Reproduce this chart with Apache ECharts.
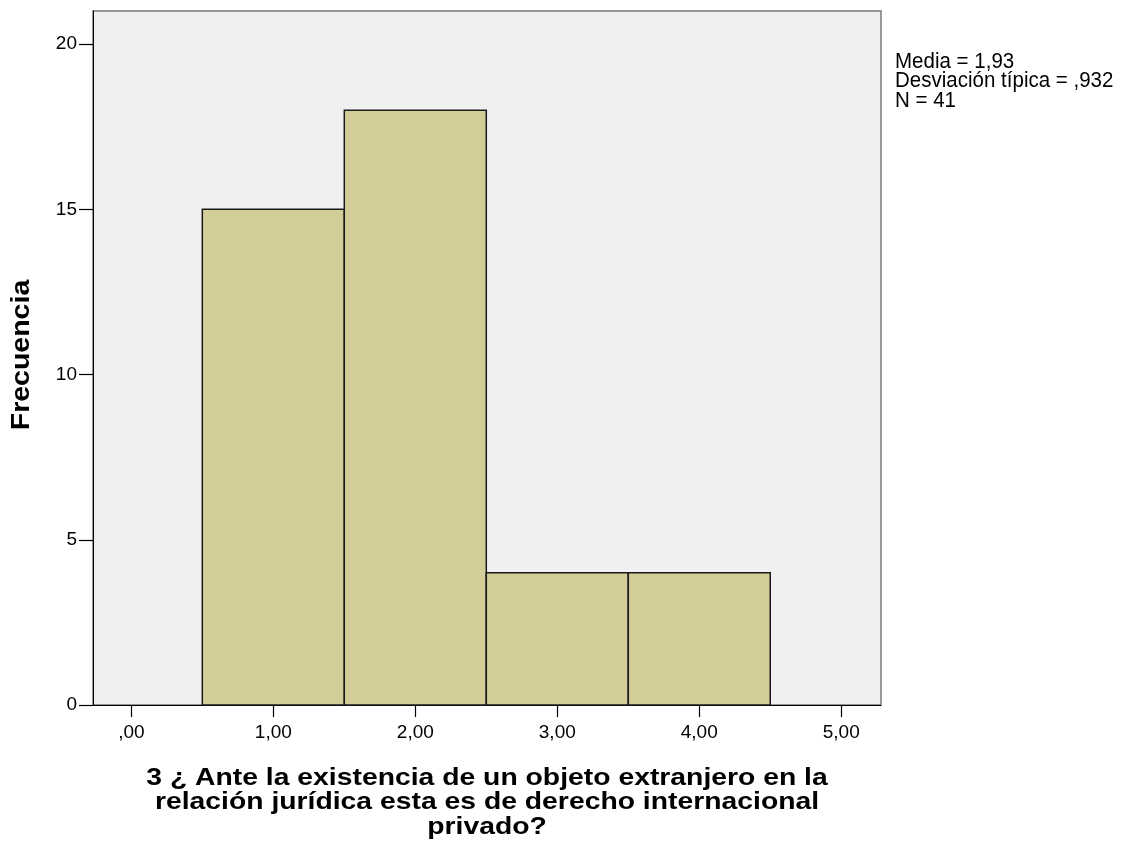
<!DOCTYPE html>
<html>
<head>
<meta charset="utf-8">
<script src="https://cdn.jsdelivr.net/npm/echarts@6/dist/echarts.min.js"></script>
<style>html,body{margin:0;padding:0;background:#fff;}#c{width:1121px;height:848px;}</style>
</head>
<body>
<div id="c"></div>
<script>
const binStarts = [0.5, 1.5, 2.5, 3.5];
const binEnds = [1.5, 2.5, 3.5, 4.5];
const counts = [15, 18, 4, 4];
const xTicks = [0, 1, 2, 3, 4, 5];
const yTicks = [0, 5, 10, 15, 20];
const statsLines = ['Media = 1,93', 'Desviación típica = ,932', 'N = 41'];
const xTitle = '3 ¿ Ante la existencia de un objeto extranjero en la\nrelación jurídica esta es de derecho internacional\nprivado?';
const yTitle = 'Frecuencia';

const chart = echarts.init(document.getElementById('c'), null, {renderer: 'canvas'});
const font = 'Liberation Sans, Arial, sans-serif';
function fmtX(v) {
  let s = v.toFixed(2).replace('.', ',');
  if (s.startsWith('0,')) s = s.slice(1);
  return s;
}
const barData = binStarts.map((s, i) => [s, binEnds[i], counts[i]]);
chart.setOption({
  animation: false,
  grid: {left: 93, right: 240, top: 11, bottom: 143, show: true, backgroundColor: '#F0F0F0', borderColor: '#7a7a7a', borderWidth: 1.5},
  xAxis: {
    type: 'value', min: -0.27, max: 5.28,
    axisLine: {show: true, onZero: false, lineStyle: {color: '#000', width: 1}},
    axisTick: {show: true, inside: false, length: 12, customValues: xTicks, lineStyle: {color: '#000', width: 1.2}},
    axisLabel: {customValues: xTicks, formatter: fmtX, color: '#000', fontFamily: font, fontSize: 19, margin: 18},
    splitLine: {show: false}
  },
  yAxis: {
    type: 'value', min: 0, max: 21,
    axisLine: {show: true, onZero: false, lineStyle: {color: '#000', width: 1}},
    axisTick: {show: true, inside: false, length: 14, customValues: yTicks, lineStyle: {color: '#000', width: 1.2}},
    axisLabel: {customValues: yTicks, color: '#000', fontFamily: font, fontSize: 19, margin: 16},
    splitLine: {show: false}
  },
  series: [{
    type: 'custom',
    data: barData,
    encode: {x: [0, 1], y: 2},
    renderItem: function (params, api) {
      const p0 = api.coord([api.value(0), api.value(2)]);
      const p1 = api.coord([api.value(1), 0]);
      return {
        type: 'rect',
        shape: {x: p0[0], y: p0[1], width: p1[0] - p0[0], height: p1[1] - p0[1]},
        style: {fill: '#D3CE97', stroke: '#1a1a1a', lineWidth: 1.5}
      };
    }
  }],
  graphic: [
    {
      type: 'text', x: 895, y: 52, scaleX: 1.08, scaleY: 1.15,
      style: {text: statsLines.join('\n'), fontFamily: font, fontSize: 19, lineHeight: 17, fill: '#000', verticalAlign: 'top'}
    },
    {
      type: 'text', x: 487, y: 766, scaleX: 1.18,
      style: {text: xTitle, fontFamily: font, fontWeight: 'bold', fontSize: 24, lineHeight: 24.5, fill: '#000', align: 'center', verticalAlign: 'top'}
    },
    {
      type: 'text', x: 22, y: 355, rotation: Math.PI / 2, scaleX: 1.14,
      style: {text: yTitle, fontFamily: font, fontWeight: 'bold', fontSize: 25, fill: '#000', align: 'center', verticalAlign: 'middle'}
    }
  ]
});
</script>
</body>
</html>
